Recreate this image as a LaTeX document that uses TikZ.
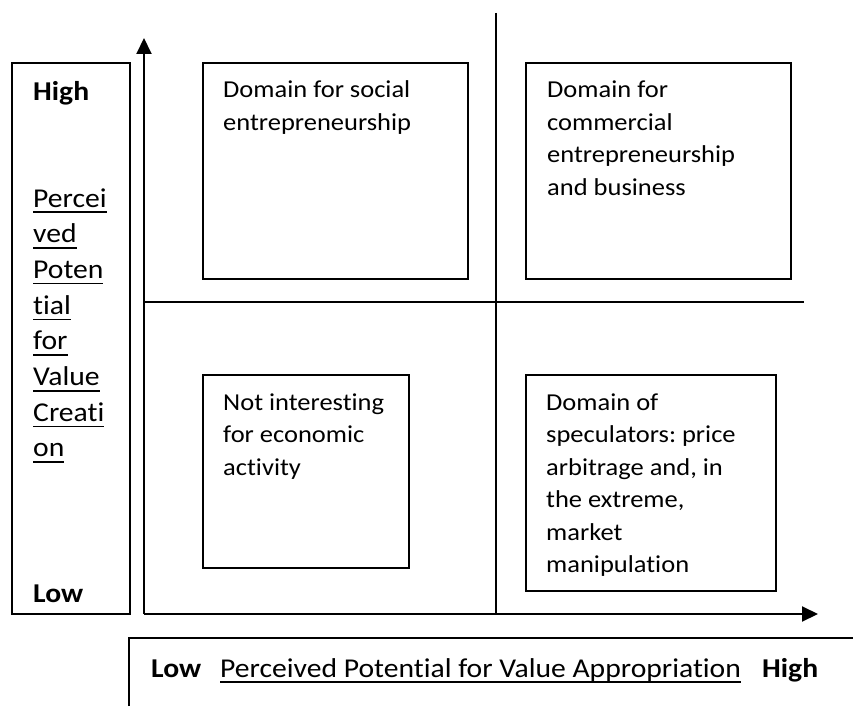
\documentclass[tikz,border=0pt]{standalone}
\usepackage{fontspec}
\setmainfont[FakeStretch=1.09,Ligatures={NoCommon}]{Carlito}
\usetikzlibrary{arrows.meta}
\newcommand{\myul}[1]{\leavevmode\setbox0\hbox{#1}\rlap{\rule[-6pt]{\wd0}{1.6pt}}\box0}
\frenchspacing
\begin{document}
\begin{tikzpicture}[x=1pt,y=-1pt,
  qbox/.style={draw, line width=1.7pt, inner sep=0pt, anchor=north west},
  rule/.style={line width=1.7pt},
  axis/.style={line width=2pt, -{Triangle[length=16pt,width=15pt]}},
  lbl/.style={anchor=base west, inner sep=0pt, font=\fontsize{24.3}{32.5}\selectfont\frenchspacing},
  side/.style={anchor=base west, inner sep=0pt, font=\fontsize{27.2}{35.7}\selectfont}]
\useasboundingbox (0,0) rectangle (853,706);

% left label box
\node[qbox, minimum width=118pt, minimum height=551pt] (leftbox) at (11,62) {};
\node[side] (yhigh) at (33,101) {\textbf{High}};
\node[side] (ytitle) at (33,207) {\parbox[t]{90pt}{\myul{Percei}\\\myul{ved}\\\myul{Poten}\\\myul{tial}\\\myul{for}\\\myul{Value}\\\myul{Creati}\\\myul{on}}};
\node[side] (ylow) at (33,602) {\textbf{Low}};

% quadrant boxes
\node[qbox, minimum width=265pt, minimum height=216pt] (tl) at (202,62) {};
\node[qbox, minimum width=265pt, minimum height=216pt] (tr) at (525,62) {};
\node[qbox, minimum width=206pt, minimum height=193pt] (bl) at (202,374) {};
\node[qbox, minimum width=250pt, minimum height=216pt] (br) at (525,374) {};

\node[lbl] (tltext) at (223,98) {\parbox[t]{240pt}{Domain for social\\entrepreneurship}};
\node[lbl] (trtext) at (547,97.5) {\parbox[t]{240pt}{Domain for\\commercial\\entrepreneurship\\and business}};
\node[lbl] (bltext) at (223,410) {\parbox[t]{200pt}{Not interesting\\for economic\\activity}};
\node[lbl] (brtext) at (546,410) {\parbox[t]{240pt}{Domain of\\speculators: price\\arbitrage and, in\\the extreme,\\market\\manipulation}};

% dividers
\coordinate (vtop) at (496,13);
\coordinate (vbot) at (496,614);
\coordinate (hleft) at (144,302);
\coordinate (hright) at (804,302);
\draw[rule] (vtop) -- (vbot);
\draw[rule] (hleft) -- (hright);

% axes
\coordinate (origin) at (144,614);
\coordinate (ytip) at (144,38);
\coordinate (xtip) at (818,614);
\draw[axis] (origin) -- (ytip);
\draw[axis] (origin) -- (xtip);

% bottom label frame
\coordinate (fa) at (129,706);
\coordinate (fb) at (129,638);
\coordinate (fc) at (853,638);
\draw[rule] (fa) -- (fb) -- (fc);
\node[side] (xlow) at (151,677) {\textbf{Low}};
\node[side] (xtitle) at (220,677) {\myul{Perceived Potential for Value Appropriation}};
\node[side] (xhigh) at (762,677) {\textbf{High}};
\end{tikzpicture}
\end{document}
